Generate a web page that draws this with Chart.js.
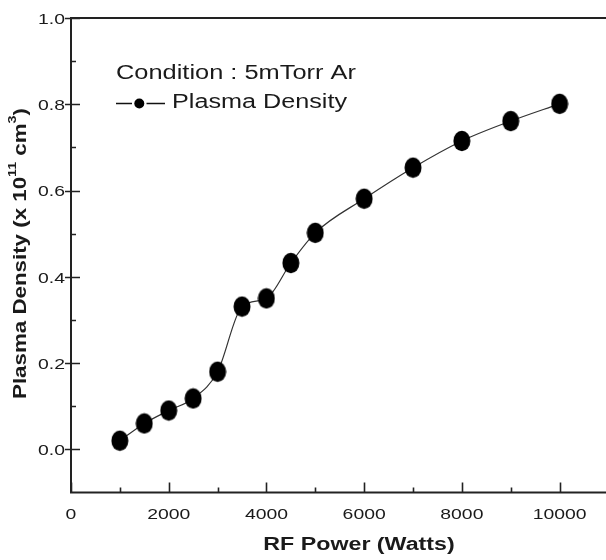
<!DOCTYPE html>
<html>
<head>
<meta charset="utf-8">
<script src="https://cdn.jsdelivr.net/npm/chart.js@4/dist/chart.umd.min.js"></script>
<style>
  html, body { margin: 0; padding: 0; background: #fff; }
  #wrap { width: 606px; height: 560px; position: relative; }
</style>
</head>
<body>
<div id="wrap"><canvas id="c" width="606" height="560"></canvas></div>
<script>
// ---- data ----
const rfPower = [1000, 1500, 2000, 2500, 3000, 3500, 4000, 4500, 5000, 6000, 7000, 8000, 9000, 10000];
const plasmaDensity = [0.02, 0.06, 0.09, 0.118, 0.18, 0.331, 0.35, 0.432, 0.502, 0.581, 0.653, 0.715, 0.761, 0.801];
const xMajorTicks = [0, 2000, 4000, 6000, 8000, 10000];
const xMinorTicks = [1000, 3000, 5000, 7000, 9000];
const yMajorTicks = [0.0, 0.2, 0.4, 0.6, 0.8, 1.0];
const yMinorTicks = [0.1, 0.3, 0.5, 0.7, 0.9];
const xTickLabels = ['0', '2000', '4000', '6000', '8000', '10000'];
const yTickLabels = ['0.0', '0.2', '0.4', '0.6', '0.8', '1.0'];
const seriesName = 'Plasma Density';
const conditionText = 'Condition : 5mTorr Ar';
const xTitle = 'RF Power (Watts)';
// y title pieces: [text, isSuperscript]
const yTitleParts = [['Plasma Density (x 10', false], ['11', true], [' cm', false], ['3', true], [')', false]];

const FONT = '"Liberation Sans", Arial, Helvetica, sans-serif';
const INK = '#1a1a1a';
const STRETCH = 1.25;

// ellipse marker
const marker = document.createElement('canvas');
marker.width = 18; marker.height = 22;
(function(){
  const m = marker.getContext('2d');
  m.fillStyle = '#000';
  m.beginPath();
  m.ellipse(9, 11, 8.5, 10.2, 0, 0, Math.PI * 2);
  m.fill();
})();

function stretchedText(ctx, text, x, y, align, sx) {
  ctx.save();
  ctx.translate(x, y);
  ctx.scale(sx, 1);
  ctx.textAlign = align;
  ctx.fillText(text, 0, 0);
  ctx.restore();
}

const frame = {
  id: 'frame',
  afterDraw(chart) {
    const ctx = chart.ctx;
    const a = chart.chartArea;
    const xs = chart.scales.x, ys = chart.scales.y;
    ctx.save();
    ctx.strokeStyle = '#222';
    ctx.lineWidth = 2;
    ctx.lineCap = 'butt';
    // axes: left, bottom, top
    ctx.beginPath();
    ctx.moveTo(a.left, a.top); ctx.lineTo(a.left, a.bottom);
    ctx.moveTo(a.left - 1, a.bottom); ctx.lineTo(a.right, a.bottom);
    ctx.moveTo(a.left - 1, a.top); ctx.lineTo(a.right, a.top);
    ctx.stroke();
    // y ticks
    ctx.lineWidth = 1.6;
    ctx.beginPath();
    yMajorTicks.forEach(v => {
      const y = Math.round(ys.getPixelForValue(v)) + 0.5;
      ctx.moveTo(a.left - 6, y); ctx.lineTo(a.left + 9, y);
    });
    yMinorTicks.forEach(v => {
      const y = Math.round(ys.getPixelForValue(v)) + 0.5;
      ctx.moveTo(a.left, y); ctx.lineTo(a.left + 5, y);
    });
    // x ticks
    xMajorTicks.forEach(v => {
      const x = Math.round(xs.getPixelForValue(v)) + 0.5;
      ctx.moveTo(x, a.bottom); ctx.lineTo(x, a.bottom - 10);
    });
    xMinorTicks.forEach(v => {
      const x = Math.round(xs.getPixelForValue(v)) + 0.5;
      ctx.moveTo(x, a.bottom); ctx.lineTo(x, a.bottom - 5);
    });
    ctx.stroke();

    ctx.fillStyle = INK;
    ctx.textBaseline = 'alphabetic';
    // tick labels
    ctx.font = '15.5px ' + FONT;
    xMajorTicks.forEach((v, i) => {
      stretchedText(ctx, xTickLabels[i], xs.getPixelForValue(v), a.bottom + 26, 'center', STRETCH);
    });
    yMajorTicks.forEach((v, i) => {
      stretchedText(ctx, yTickLabels[i], a.left - 6, ys.getPixelForValue(v) + 5.8, 'right', STRETCH);
    });

    // x title
    ctx.font = 'bold 18px ' + FONT;
    stretchedText(ctx, xTitle, 359, 550, 'center', 1.29);

    // y title with superscripts
    const mainFont = 'bold 18px ' + FONT, supFont = 'bold 11.5px ' + FONT;
    let total = 0;
    yTitleParts.forEach(([t, sup]) => { ctx.font = sup ? supFont : mainFont; total += ctx.measureText(t).width; });
    const sx = 1.24;
    ctx.save();
    ctx.translate(26, 253.5);
    ctx.rotate(-Math.PI / 2);
    ctx.scale(sx, 1);
    ctx.textAlign = 'left';
    let cx = -total / 2;
    yTitleParts.forEach(([t, sup]) => {
      ctx.font = sup ? supFont : mainFont;
      ctx.fillText(t, cx, sup ? -10.5 : 0);
      cx += ctx.measureText(t).width;
    });
    ctx.restore();

    // legend
    ctx.font = '20px ' + FONT;
    stretchedText(ctx, conditionText, 116, 79, 'left', 1.27);
    stretchedText(ctx, seriesName, 172, 108, 'left', 1.26);
    ctx.strokeStyle = '#111';
    ctx.lineWidth = 1.3;
    ctx.beginPath();
    ctx.moveTo(116, 103.5); ctx.lineTo(132, 103.5);
    ctx.moveTo(146.5, 103.5); ctx.lineTo(165, 103.5);
    ctx.stroke();
    ctx.fillStyle = '#000';
    ctx.beginPath();
    ctx.arc(139.3, 103.5, 5, 0, Math.PI * 2);
    ctx.fill();
    ctx.restore();
  }
};

new Chart(document.getElementById('c'), {
  type: 'line',
  data: {
    datasets: [{
      label: seriesName,
      data: rfPower.map((x, i) => ({ x: x, y: plasmaDensity[i] })),
      borderColor: '#333',
      borderWidth: 1.2,
      cubicInterpolationMode: 'monotone',
      pointStyle: marker,
      pointRadius: 10,
      pointHoverRadius: 10,
      fill: false
    }]
  },
  options: {
    responsive: false,
    animation: false,
    events: [],
    layout: { autoPadding: false, padding: { top: 18, right: 0, left: 0, bottom: 0 } },
    plugins: { legend: { display: false }, tooltip: { enabled: false } },
    scales: {
      x: {
        type: 'linear',
        min: 0, max: 10950,
        grid: { display: false, drawTicks: false },
        border: { display: false },
        afterBuildTicks: s => { s.ticks = xMajorTicks.map(v => ({ value: v })); },
        afterFit: s => { s.height = 67.5; s.paddingLeft = 0; s.paddingRight = 0; },
        ticks: { display: false }
      },
      y: {
        type: 'linear',
        min: -0.1, max: 1.0,
        grid: { display: false, drawTicks: false },
        border: { display: false },
        afterBuildTicks: s => { s.ticks = yMajorTicks.map(v => ({ value: v })); },
        afterFit: s => { s.width = 71; s.paddingTop = 0; s.paddingBottom = 0; },
        ticks: { display: false }
      }
    }
  },
  plugins: [frame]
});
</script>
</body>
</html>
